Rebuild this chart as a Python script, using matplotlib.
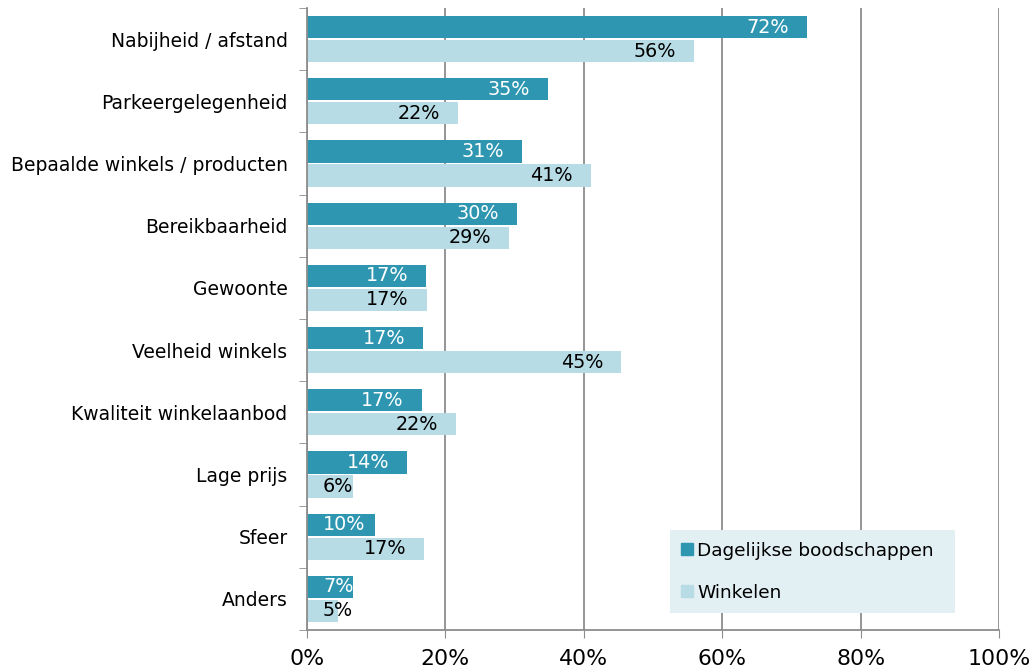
import matplotlib
matplotlib.use("Agg")
import matplotlib.pyplot as plt
import numpy as np
from matplotlib.patches import Patch

categories = ["Nabijheid / afstand", "Parkeergelegenheid", "Bepaalde winkels / producten",
              "Bereikbaarheid", "Gewoonte", "Veelheid winkels", "Kwaliteit winkelaanbod",
              "Lage prijs", "Sfeer", "Anders"]
dagelijks = [72.3, 34.8, 31.1, 30.3, 17.2, 16.8, 16.6, 14.5, 9.8, 6.7]
winkelen = [55.9, 21.8, 41.0, 29.2, 17.3, 45.4, 21.5, 6.6, 16.9, 4.5]
dag_labels = ["72%", "35%", "31%", "30%", "17%", "17%", "17%", "14%", "10%", "7%"]
win_labels = ["56%", "22%", "41%", "29%", "17%", "45%", "22%", "6%", "17%", "5%"]
series_names = ["Dagelijkse boodschappen", "Winkelen"]
xticks = [0, 20, 40, 60, 80, 100]
xtick_labels = ["0%", "20%", "40%", "60%", "80%", "100%"]

c_dark = "#2e96b1"
c_light = "#b7dce5"
gray = "#8c8c8c"

W, H = 1034, 670
fig = plt.figure(figsize=(W / 100, H / 100), dpi=100)
ax_l, ax_r = 307, 999
ax = fig.add_axes([ax_l / W, (H - 630) / H, (ax_r - ax_l) / W, (630 - 8) / H])
px = 100.0 / (ax_r - ax_l)  # data units per pixel

n = len(categories)
y = np.arange(n)
bh = 0.355
off = 0.015
ax.barh(y - bh / 2 - off, dagelijks, height=bh, color=c_dark, zorder=3)
ax.barh(y + bh / 2 + off, winkelen, height=bh, color=c_light, zorder=3)

ax.set_ylim(n - 0.5, -0.5)
ax.set_xlim(0, 100)

fig.canvas.draw()
renderer = fig.canvas.get_renderer()

def place(val, ypos, label, color):
    t = ax.text(val - 18 * px, ypos, label, color=color, ha="right", va="center",
                fontsize=13.8, zorder=4)
    bb = t.get_window_extent(renderer=renderer)
    width = bb.width * px
    if val - 18 * px - width < 16 * px:
        t.set_x(16 * px)
        t.set_ha("left")

for i in range(n):
    place(dagelijks[i], y[i] - bh / 2 - off, dag_labels[i], "white")
    place(winkelen[i], y[i] + bh / 2 + off, win_labels[i], "black")

ax.set_yticks(y)
ax.set_yticklabels(categories, fontsize=13.5)
ax.set_yticks(np.arange(-0.5, n, 1), minor=True)
ax.tick_params(axis="y", which="major", length=0, pad=14)
ax.tick_params(axis="y", which="minor", length=6, color=gray, direction="out")
ax.set_xticks(xticks)
ax.set_xticklabels(xtick_labels, fontsize=15.8)
ax.tick_params(axis="x", length=6, color=gray, direction="out", pad=8)
ax.grid(axis="x", color=gray, linewidth=1.3, zorder=1)
for s in ["top", "right"]:
    ax.spines[s].set_visible(False)
for s in ["left", "bottom"]:
    ax.spines[s].set_color(gray)
    ax.spines[s].set_linewidth(1.3)
    ax.spines[s].set_zorder(5)

handles = [Patch(color=c_dark), Patch(color=c_light)]
leg = ax.legend(handles, series_names, loc="lower left",
                bbox_to_anchor=((670 - ax_l) / (ax_r - ax_l), (630 - 613) / (630 - 8),
                                (955 - 670) / (ax_r - ax_l), (613 - 530) / (630 - 8)),
                mode="expand", fontsize=13.3, frameon=True, fancybox=False,
                handlelength=0.6, handleheight=0.6, handletextpad=0.25,
                labelspacing=1.3, borderpad=0.62, borderaxespad=0)
leg.get_frame().set_facecolor("#e2eff3")
leg.get_frame().set_edgecolor("none")
leg.get_frame().set_alpha(1)
leg.set_zorder(6)

fig.savefig("out.png", dpi=100)
